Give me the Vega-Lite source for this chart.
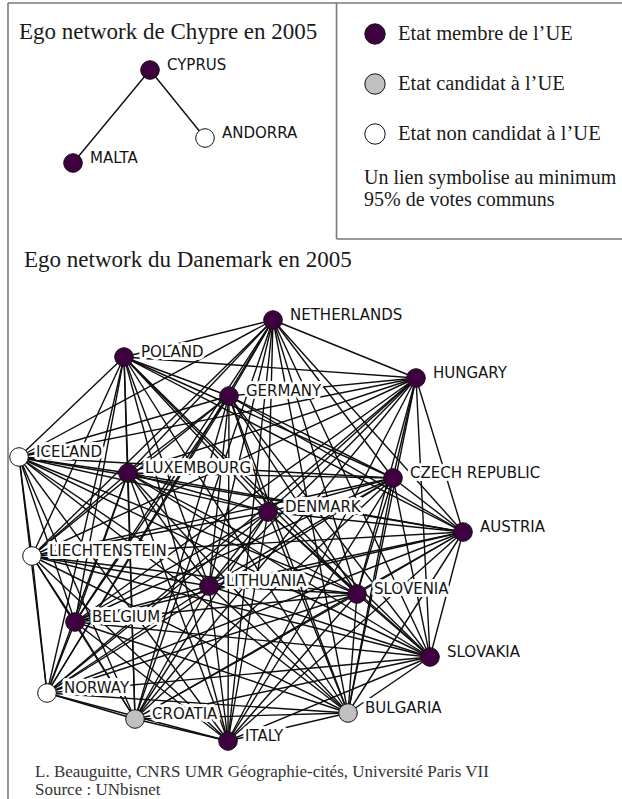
{
  "$schema": "https://vega.github.io/schema/vega-lite/v6.json",
  "width": 622,
  "height": 799,
  "autosize": {"type": "none"},
  "padding": 0,
  "background": "white",
  "config": {"view": {"stroke": null}},
  "datasets": {
    "nodes": [
      {"id": "CY", "name": "CYPRUS", "status": "Etat membre de l’UE", "x": 150, "y": 70},
      {"id": "AD", "name": "ANDORRA", "status": "Etat non candidat à l’UE", "x": 205, "y": 138},
      {"id": "MT", "name": "MALTA", "status": "Etat membre de l’UE", "x": 73, "y": 163},
      {"id": "NL", "name": "NETHERLANDS", "status": "Etat membre de l’UE", "x": 273, "y": 320},
      {"id": "PL", "name": "POLAND", "status": "Etat membre de l’UE", "x": 124, "y": 357},
      {"id": "HU", "name": "HUNGARY", "status": "Etat membre de l’UE", "x": 416, "y": 378},
      {"id": "DE", "name": "GERMANY", "status": "Etat membre de l’UE", "x": 229, "y": 396},
      {"id": "IS", "name": "ICELAND", "status": "Etat non candidat à l’UE", "x": 19, "y": 457},
      {"id": "LU", "name": "LUXEMBOURG", "status": "Etat membre de l’UE", "x": 128, "y": 473},
      {"id": "CZ", "name": "CZECH REPUBLIC", "status": "Etat membre de l’UE", "x": 393, "y": 478},
      {"id": "DK", "name": "DENMARK", "status": "Etat membre de l’UE", "x": 268, "y": 512},
      {"id": "AT", "name": "AUSTRIA", "status": "Etat membre de l’UE", "x": 463, "y": 532},
      {"id": "LI", "name": "LIECHTENSTEIN", "status": "Etat non candidat à l’UE", "x": 32, "y": 556},
      {"id": "LT", "name": "LITHUANIA", "status": "Etat membre de l’UE", "x": 209, "y": 586},
      {"id": "SI", "name": "SLOVENIA", "status": "Etat membre de l’UE", "x": 357, "y": 594},
      {"id": "BE", "name": "BELGIUM", "status": "Etat membre de l’UE", "x": 75, "y": 622},
      {"id": "SK", "name": "SLOVAKIA", "status": "Etat membre de l’UE", "x": 430, "y": 657},
      {"id": "NO", "name": "NORWAY", "status": "Etat non candidat à l’UE", "x": 47, "y": 693},
      {"id": "HR", "name": "CROATIA", "status": "Etat candidat à l’UE", "x": 135, "y": 719},
      {"id": "BG", "name": "BULGARIA", "status": "Etat candidat à l’UE", "x": 348, "y": 713},
      {"id": "IT", "name": "ITALY", "status": "Etat membre de l’UE", "x": 228, "y": 741}
    ],
    "edges": [
      {"a": "CY", "b": "AD"}, {"a": "CY", "b": "MT"},
      {"a": "NL", "b": "PL"}, {"a": "NL", "b": "HU"}, {"a": "NL", "b": "DE"}, {"a": "NL", "b": "IS"}, {"a": "NL", "b": "LU"}, {"a": "NL", "b": "CZ"}, {"a": "NL", "b": "DK"}, {"a": "NL", "b": "AT"}, {"a": "NL", "b": "LI"}, {"a": "NL", "b": "LT"}, {"a": "NL", "b": "SI"}, {"a": "NL", "b": "BE"}, {"a": "NL", "b": "SK"}, {"a": "NL", "b": "NO"}, {"a": "NL", "b": "HR"}, {"a": "NL", "b": "BG"}, {"a": "NL", "b": "IT"},
      {"a": "PL", "b": "HU"}, {"a": "PL", "b": "DE"}, {"a": "PL", "b": "IS"}, {"a": "PL", "b": "LU"}, {"a": "PL", "b": "CZ"}, {"a": "PL", "b": "DK"}, {"a": "PL", "b": "AT"}, {"a": "PL", "b": "LI"}, {"a": "PL", "b": "LT"}, {"a": "PL", "b": "SI"}, {"a": "PL", "b": "BE"}, {"a": "PL", "b": "SK"}, {"a": "PL", "b": "NO"}, {"a": "PL", "b": "HR"}, {"a": "PL", "b": "BG"}, {"a": "PL", "b": "IT"},
      {"a": "HU", "b": "DE"}, {"a": "HU", "b": "IS"}, {"a": "HU", "b": "LU"}, {"a": "HU", "b": "CZ"}, {"a": "HU", "b": "DK"}, {"a": "HU", "b": "AT"}, {"a": "HU", "b": "LI"}, {"a": "HU", "b": "LT"}, {"a": "HU", "b": "SI"}, {"a": "HU", "b": "BE"}, {"a": "HU", "b": "SK"}, {"a": "HU", "b": "NO"}, {"a": "HU", "b": "HR"}, {"a": "HU", "b": "BG"}, {"a": "HU", "b": "IT"},
      {"a": "DE", "b": "IS"}, {"a": "DE", "b": "LU"}, {"a": "DE", "b": "CZ"}, {"a": "DE", "b": "DK"}, {"a": "DE", "b": "AT"}, {"a": "DE", "b": "LI"}, {"a": "DE", "b": "LT"}, {"a": "DE", "b": "SI"}, {"a": "DE", "b": "BE"}, {"a": "DE", "b": "SK"}, {"a": "DE", "b": "NO"}, {"a": "DE", "b": "HR"}, {"a": "DE", "b": "BG"}, {"a": "DE", "b": "IT"},
      {"a": "IS", "b": "LU"}, {"a": "IS", "b": "CZ"}, {"a": "IS", "b": "DK"}, {"a": "IS", "b": "AT"}, {"a": "IS", "b": "LI"}, {"a": "IS", "b": "LT"}, {"a": "IS", "b": "SI"}, {"a": "IS", "b": "BE"}, {"a": "IS", "b": "SK"}, {"a": "IS", "b": "NO"}, {"a": "IS", "b": "HR"}, {"a": "IS", "b": "BG"}, {"a": "IS", "b": "IT"},
      {"a": "LU", "b": "CZ"}, {"a": "LU", "b": "DK"}, {"a": "LU", "b": "AT"}, {"a": "LU", "b": "LI"}, {"a": "LU", "b": "LT"}, {"a": "LU", "b": "SI"}, {"a": "LU", "b": "BE"}, {"a": "LU", "b": "SK"}, {"a": "LU", "b": "NO"}, {"a": "LU", "b": "HR"}, {"a": "LU", "b": "BG"}, {"a": "LU", "b": "IT"},
      {"a": "CZ", "b": "DK"}, {"a": "CZ", "b": "AT"}, {"a": "CZ", "b": "LI"}, {"a": "CZ", "b": "LT"}, {"a": "CZ", "b": "SI"}, {"a": "CZ", "b": "BE"}, {"a": "CZ", "b": "SK"}, {"a": "CZ", "b": "NO"}, {"a": "CZ", "b": "HR"}, {"a": "CZ", "b": "BG"}, {"a": "CZ", "b": "IT"},
      {"a": "DK", "b": "AT"}, {"a": "DK", "b": "LI"}, {"a": "DK", "b": "LT"}, {"a": "DK", "b": "SI"}, {"a": "DK", "b": "BE"}, {"a": "DK", "b": "SK"}, {"a": "DK", "b": "NO"}, {"a": "DK", "b": "HR"}, {"a": "DK", "b": "BG"}, {"a": "DK", "b": "IT"},
      {"a": "AT", "b": "LI"}, {"a": "AT", "b": "LT"}, {"a": "AT", "b": "SI"}, {"a": "AT", "b": "BE"}, {"a": "AT", "b": "SK"}, {"a": "AT", "b": "NO"}, {"a": "AT", "b": "HR"}, {"a": "AT", "b": "BG"}, {"a": "AT", "b": "IT"},
      {"a": "LI", "b": "LT"}, {"a": "LI", "b": "SI"}, {"a": "LI", "b": "BE"}, {"a": "LI", "b": "SK"}, {"a": "LI", "b": "NO"}, {"a": "LI", "b": "HR"}, {"a": "LI", "b": "BG"}, {"a": "LI", "b": "IT"},
      {"a": "LT", "b": "SI"}, {"a": "LT", "b": "BE"}, {"a": "LT", "b": "SK"}, {"a": "LT", "b": "NO"}, {"a": "LT", "b": "HR"}, {"a": "LT", "b": "BG"}, {"a": "LT", "b": "IT"},
      {"a": "SI", "b": "BE"}, {"a": "SI", "b": "SK"}, {"a": "SI", "b": "NO"}, {"a": "SI", "b": "HR"}, {"a": "SI", "b": "BG"}, {"a": "SI", "b": "IT"},
      {"a": "BE", "b": "SK"}, {"a": "BE", "b": "NO"}, {"a": "BE", "b": "HR"}, {"a": "BE", "b": "BG"}, {"a": "BE", "b": "IT"},
      {"a": "SK", "b": "NO"}, {"a": "SK", "b": "HR"}, {"a": "SK", "b": "BG"}, {"a": "SK", "b": "IT"},
      {"a": "NO", "b": "HR"}, {"a": "NO", "b": "BG"}, {"a": "NO", "b": "IT"},
      {"a": "HR", "b": "BG"}, {"a": "HR", "b": "IT"},
      {"a": "BG", "b": "IT"}
    ]
  },
  "layer": [
    {
      "data": {"values": [{"x": 8, "x2": 8, "y": 3, "y2": 799}, {"x": 8, "x2": 622, "y": 3, "y2": 3}, {"x": 336.5, "x2": 336.5, "y": 3, "y2": 239}, {"x": 336.5, "x2": 622, "y": 239, "y2": 239}]},
      "mark": {"type": "rule", "stroke": "#7a7a7a", "strokeWidth": 1.6},
      "encoding": {
        "x": {"field": "x", "type": "quantitative", "scale": {"domain": [0, 622], "nice": false, "zero": false}, "axis": null},
        "x2": {"field": "x2"},
        "y": {"field": "y", "type": "quantitative", "scale": {"domain": [0, 799], "nice": false, "zero": false, "reverse": true}, "axis": null},
        "y2": {"field": "y2"}
      }
    },
    {
      "data": {"name": "edges"},
      "transform": [
        {"lookup": "a", "from": {"data": {"name": "nodes"}, "key": "id", "fields": ["x", "y"]}, "as": ["xa", "ya"]},
        {"lookup": "b", "from": {"data": {"name": "nodes"}, "key": "id", "fields": ["x", "y"]}, "as": ["xb", "yb"]}
      ],
      "mark": {"type": "rule", "stroke": "#0d0d0d", "strokeWidth": 1.4},
      "encoding": {
        "x": {"field": "xa", "type": "quantitative", "scale": {"domain": [0, 622], "nice": false, "zero": false}, "axis": null},
        "x2": {"field": "xb"},
        "y": {"field": "ya", "type": "quantitative", "scale": {"domain": [0, 799], "nice": false, "zero": false, "reverse": true}, "axis": null},
        "y2": {"field": "yb"}
      }
    },
    {
      "data": {"name": "nodes"},
      "mark": {"type": "text", "align": "left", "baseline": "middle", "dx": 17, "dy": -5, "font": "DejaVu Sans", "fontSize": 15, "fill": "white", "stroke": "white", "strokeWidth": 6, "strokeJoin": "round"},
      "encoding": {
        "x": {"field": "x", "type": "quantitative", "scale": {"domain": [0, 622], "nice": false, "zero": false}, "axis": null},
        "y": {"field": "y", "type": "quantitative", "scale": {"domain": [0, 799], "nice": false, "zero": false, "reverse": true}, "axis": null},
        "text": {"field": "name"}
      }
    },
    {
      "data": {"name": "nodes"},
      "mark": {"type": "text", "align": "left", "baseline": "middle", "dx": 17, "dy": -5, "font": "DejaVu Sans", "fontSize": 15, "fill": "#141414"},
      "encoding": {
        "x": {"field": "x", "type": "quantitative", "scale": {"domain": [0, 622], "nice": false, "zero": false}, "axis": null},
        "y": {"field": "y", "type": "quantitative", "scale": {"domain": [0, 799], "nice": false, "zero": false, "reverse": true}, "axis": null},
        "text": {"field": "name"}
      }
    },
    {
      "data": {"name": "nodes"},
      "mark": {"type": "point", "shape": "circle", "filled": true, "size": 346, "stroke": "#111111", "strokeWidth": 1, "opacity": 1},
      "encoding": {
        "x": {"field": "x", "type": "quantitative", "scale": {"domain": [0, 622], "nice": false, "zero": false}, "axis": null},
        "y": {"field": "y", "type": "quantitative", "scale": {"domain": [0, 799], "nice": false, "zero": false, "reverse": true}, "axis": null},
        "fill": {
          "field": "status",
          "type": "nominal",
          "scale": {"domain": ["Etat membre de l’UE", "Etat candidat à l’UE", "Etat non candidat à l’UE"], "range": ["#3f0040", "#c0c0c0", "#ffffff"]},
          "legend": {
            "orient": "none",
            "legendX": 364,
            "legendY": 23,
            "padding": 0,
            "symbolType": "circle",
            "symbolSize": 415,
            "symbolStrokeColor": "#111111",
            "symbolStrokeWidth": 1,
            "symbolOpacity": 1,
            "labelFont": "Liberation Serif",
            "labelFontSize": 20.5,
            "labelColor": "#1a1a1a",
            "labelOffset": 12,
            "labelLimit": 400,
            "rowPadding": 24,
            "title": ["Un lien symbolise au minimum", "95% de votes communs"],
            "titleOrient": "bottom",
            "titleAnchor": "start",
            "titleFont": "Liberation Serif",
            "titleFontSize": 20,
            "titleFontWeight": "normal",
            "titleColor": "#1a1a1a",
            "titleLineHeight": 22,
            "titlePadding": 22,
            "titleLimit": 400
          }
        }
      }
    },
    {
      "data": {"values": [
        {"t": "Ego network de Chypre en 2005", "x": 19, "y": 39},
        {"t": "Ego network du Danemark en 2005", "x": 24, "y": 267}
      ]},
      "mark": {"type": "text", "align": "left", "baseline": "alphabetic", "font": "Liberation Serif", "fontSize": 23, "fill": "#1a1a1a"},
      "encoding": {
        "x": {"field": "x", "type": "quantitative", "scale": {"domain": [0, 622], "nice": false, "zero": false}, "axis": null},
        "y": {"field": "y", "type": "quantitative", "scale": {"domain": [0, 799], "nice": false, "zero": false, "reverse": true}, "axis": null},
        "text": {"field": "t"}
      }
    },
    {
      "data": {"values": [
        {"t": "L. Beauguitte, CNRS UMR Géographie-cités, Université Paris VII", "x": 35, "y": 777},
        {"t": "Source : UNbisnet", "x": 35, "y": 795}
      ]},
      "mark": {"type": "text", "align": "left", "baseline": "alphabetic", "font": "Liberation Serif", "fontSize": 17, "fill": "#333333"},
      "encoding": {
        "x": {"field": "x", "type": "quantitative", "scale": {"domain": [0, 622], "nice": false, "zero": false}, "axis": null},
        "y": {"field": "y", "type": "quantitative", "scale": {"domain": [0, 799], "nice": false, "zero": false, "reverse": true}, "axis": null},
        "text": {"field": "t"}
      }
    }
  ]
}
